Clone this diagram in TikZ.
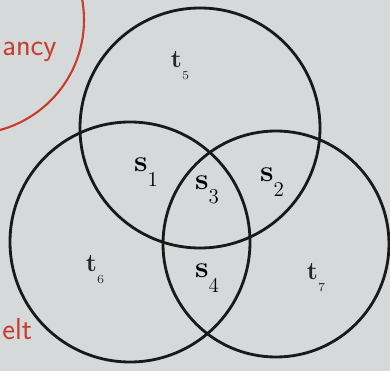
\documentclass[tikz,border=0pt]{standalone}
\usepackage{xcolor}
\definecolor{paper}{RGB}{214,217,217}
\definecolor{inkred}{RGB}{200,60,45}

% set label with a low, light index
\newcommand{\setlab}[2]{{\bfseries #1}\raisebox{-1.1ex}{\mdseries\large #2}}

\begin{document}
\begin{tikzpicture}[
    x=0.02cm, y=-0.02cm,
    setline/.style={line width=1.6pt, black!90},
    slabel/.style={font=\LARGE, inner sep=0pt},
    tlabel/.style={font=\Large, text=black!85, inner sep=0pt},
    scribble/.style={text=inkred, font=\LARGE\sffamily, inner sep=0pt}
  ]
  % Background
  \useasboundingbox (0,0) rectangle (390,371);
  \fill[paper] (0,0) rectangle (390,371);

  % Red notes at the border
  \begin{scope}
    \clip (0,0) rectangle (390,371);
    \draw[inkred, line width=1.2pt] (-30,20) circle [radius=114];
  \end{scope}
  \node[scribble, anchor=base west] (ancy) at (2,56) {ancy};
  \node[scribble, anchor=base west] (elt) at (2,340) {elt};

  % Circles
  \draw[setline] (200,128) circle [radius=120];
  \draw[setline] (130,242) circle [radius=120];
  \draw[setline] (276,244) circle [radius=113];

  % Outer regions
  \node[tlabel] (t5) at (180,66) {\setlab{t}{\scriptsize 5}};
  \node[tlabel] (t6) at (95,270) {\setlab{t}{\scriptsize 6}};
  \node[tlabel] (t7) at (316,278) {\setlab{t}{\scriptsize 7}};

  % Overlaps
  \node[slabel] (s1) at (146,172) {\setlab{s}{1}};
  \node[slabel] (s2) at (272,182) {\setlab{s}{2}};
  \node[slabel] (s3) at (207,190) {\setlab{s}{3}};
  \node[slabel] (s4) at (207,278) {\setlab{s}{4}};
\end{tikzpicture}
\end{document}
